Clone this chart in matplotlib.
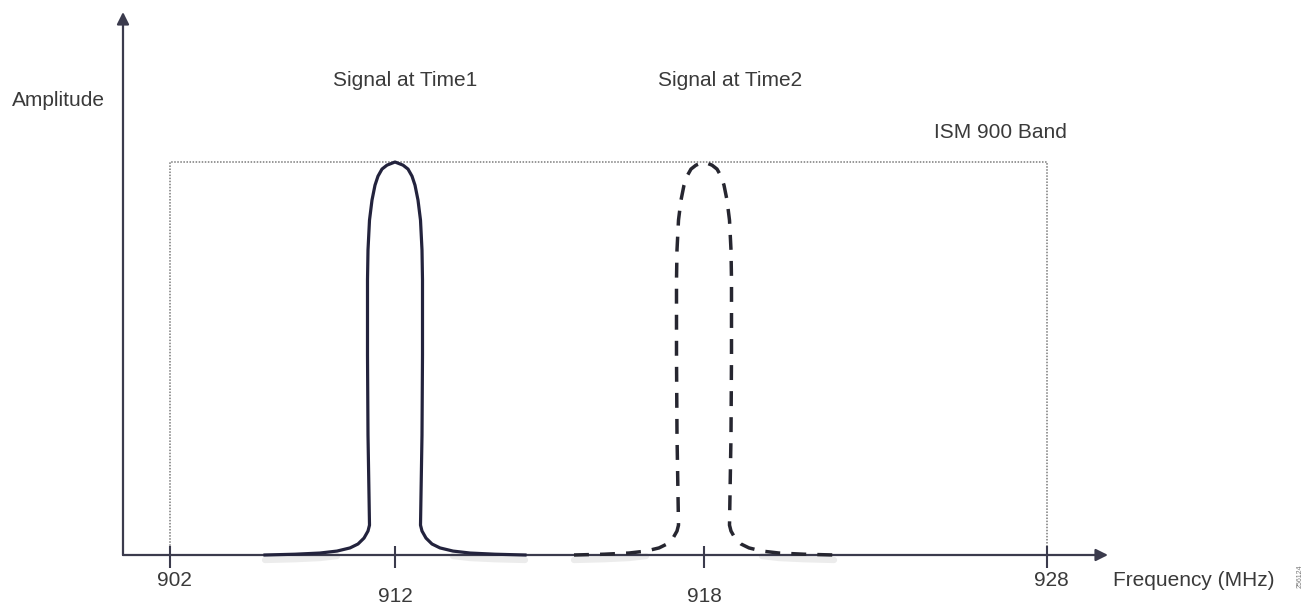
import matplotlib
matplotlib.use('Agg')
import matplotlib.pyplot as plt

plt.rcParams['font.family'] = ['Liberation Sans', 'DejaVu Sans']

# 頻率刻度 (示意圖, 位置非線性)
tick_labels = ['902', '912', '918', '928']
tick_pos = [170, 395, 704, 1047]
band_start, band_end = 902, 928

# 訊號輪廓: 半寬 (px) 與高度 (振幅, 1 = 頂端)
half_width = [0, 8, 13, 17, 20, 23, 25.5, 27, 27.5, 27.5, 27, 26, 25.5, 27, 31, 37, 45, 58, 75, 100, 130]
amplitude = [1.0, 0.992, 0.982, 0.964, 0.941, 0.903, 0.852, 0.776, 0.700, 0.509,
             0.305, 0.153, 0.076, 0.061, 0.043, 0.028, 0.018, 0.010, 0.005, 0.002, 0.0]

signal_names = ['Signal at Time1', 'Signal at Time2']
signal_freq = ['912', '918']

W, H = 1314, 606
Y0, YS = 555, 393  # 基線像素, 振幅 1 對應像素

fig = plt.figure(figsize=(W / 100, H / 100), dpi=100)
ax = fig.add_axes([0, 0, 1, 1])
ax.set_xlim(0, W)
ax.set_ylim((Y0 - H) / YS, Y0 / YS)
ax.axis('off')

axis_c = '#3b3b4d'
text_c = '#3a3a3a'
line_c = '#23233d'


def ftext(x, y, s, **kw):
    fig.text(x / W, 1 - y / H, s, color=text_c, fontsize=15, **kw)


# 坐標軸箭頭
ax.annotate('', xy=(1108, 0), xytext=(123, 0),
            arrowprops=dict(arrowstyle='-|>', color=axis_c, lw=1.6,
                            mutation_scale=18, shrinkA=0, shrinkB=0))
ax.annotate('', xy=(123, (Y0 - 12) / YS), xytext=(123, 0),
            arrowprops=dict(arrowstyle='-|>', color=axis_c, lw=1.6,
                            mutation_scale=18, shrinkA=0, shrinkB=0))

# 刻度
ax.vlines(tick_pos, -13 / YS, 9 / YS, color=axis_c, lw=1.5)
for p, lab in zip(tick_pos, tick_labels):
    low = lab not in (str(band_start), str(band_end))
    ftext(p + (0 if low else 4), 596 if low else 581, lab, ha='center', va='center')

# ISM 頻段框
x0 = tick_pos[tick_labels.index(str(band_start))]
x1 = tick_pos[tick_labels.index(str(band_end))]
ax.plot([x0, x0, x1, x1], [0, 1, 1, 0], color='#7a7a7a', lw=1.1,
        linestyle=(0, (1, 1)), zorder=1)

# 訊號
for i, f in enumerate(signal_freq):
    c = tick_pos[tick_labels.index(f)]
    xs = [c - w for w in half_width[::-1]] + [c + w for w in half_width[1:]]
    ys = amplitude[::-1] + amplitude[1:]
    # 陰影 (只在尾部)
    sx = [x for x, y in zip(xs, ys) if y < 0.015]
    sy = [y - 5 / YS for x, y in zip(xs, ys) if y < 0.015]
    n = len(sx) // 2
    for seg_x, seg_y in ((sx[:n], sy[:n]), (sx[n:], sy[n:])):
        ax.plot(seg_x, seg_y, color='#ececec', lw=4.5, solid_capstyle='round', zorder=2)
    if i == 0:
        ax.plot(xs, ys, color=line_c, lw=2.3, zorder=3)
    else:
        ax.plot(xs, ys, color='#262630', lw=2.5, linestyle=(0, (4.3, 3.2)), zorder=3)

# 文字
ftext(12, 101, 'Amplitude', ha='left', va='center')
ftext(405, 80, signal_names[0], ha='center', va='center')
ftext(730, 80, signal_names[1], ha='center', va='center')
ftext(1067, 132, 'ISM 900 Band', ha='right', va='center')
ftext(1113, 581, 'Frequency (MHz)', ha='left', va='center')
fig.text(1300 / W, 1 - 576 / H, '256124', color='#777777', fontsize=5,
         rotation=90, ha='center', va='center')

fig.savefig('out.png', dpi=100)
